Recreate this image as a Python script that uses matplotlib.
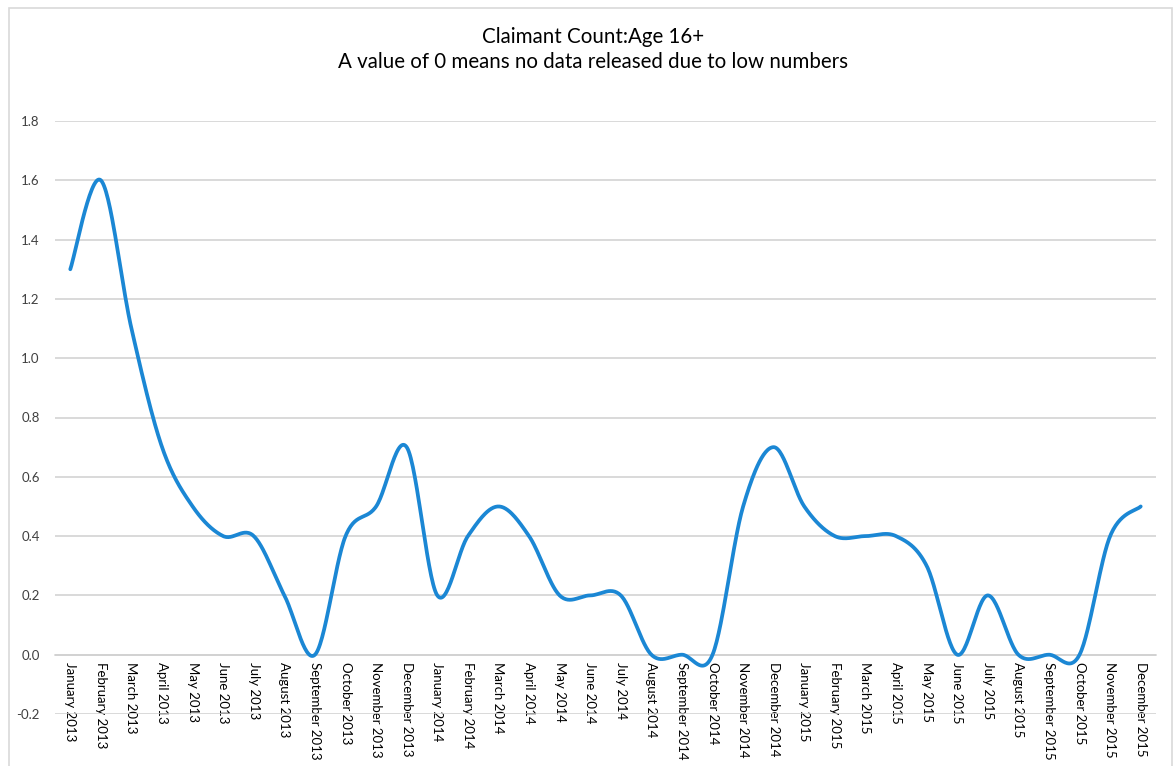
import numpy as np
import matplotlib
matplotlib.use("Agg")
import matplotlib.pyplot as plt
from matplotlib.patches import Rectangle

plt.rcParams['font.family'] = ['Lato', 'DejaVu Sans']

# Data
months = ["January", "February", "March", "April", "May", "June", "July",
          "August", "September", "October", "November", "December"]
years = [2013, 2014, 2015]
labels = [f"{m} {y}" for y in years for m in months]
values = [1.3, 1.6, 1.1, 0.7, 0.5, 0.4, 0.4, 0.2, 0.0, 0.4, 0.5, 0.7,
          0.2, 0.4, 0.5, 0.4, 0.2, 0.2, 0.2, 0.0, 0.0, 0.0, 0.5, 0.7,
          0.5, 0.4, 0.4, 0.4, 0.3, 0.0, 0.2, 0.0, 0.0, 0.0, 0.4, 0.5]


def smooth(x, y, n=30):
    # Catmull-Rom spline, like Excel's "smoothed line"
    x = np.asarray(x, float)
    y = np.asarray(y, float)
    px = np.concatenate([[x[0]], x, [x[-1]]])
    py = np.concatenate([[y[0]], y, [y[-1]]])
    xs, ys = [], []
    t = np.linspace(0, 1, n, endpoint=False)
    for i in range(1, len(px) - 2):
        for p, out in ((px, xs), (py, ys)):
            p0, p1, p2, p3 = p[i - 1], p[i], p[i + 1], p[i + 2]
            out.extend(0.5 * ((2 * p1) + (-p0 + p2) * t
                              + (2 * p0 - 5 * p1 + 4 * p2 - p3) * t ** 2
                              + (-p0 + 3 * p1 - 3 * p2 + p3) * t ** 3))
    xs.append(x[-1])
    ys.append(y[-1])
    return np.array(xs), np.array(ys)


fig = plt.figure(figsize=(11.75, 7.66), dpi=100)
ax = fig.add_axes([55 / 1175, (766 - 714) / 766, (1156 - 55) / 1175, (714 - 121) / 766])

# chart border
fig.patches.append(Rectangle((9 / 1175, -0.01), (1172 - 9) / 1175, (758) / 766 + 0.01,
                             transform=fig.transFigure, fill=False,
                             edgecolor='#d9d9d9', linewidth=1.2))

xi = np.arange(len(values))
sx, sy = smooth(xi, values)
ax.plot(sx, sy, color='#1b87d4', linewidth=2.7, solid_capstyle='round', zorder=3)

ax.set_xlim(-0.5, len(values) - 0.5)
ax.set_ylim(-0.2, 1.8)
ax.set_yticks(np.arange(-0.2, 1.81, 0.2))
ax.set_yticklabels([f"{v:.1f}" for v in np.arange(-0.2, 1.81, 0.2)], fontsize=9.5, color='#404040')
ax.yaxis.grid(True, color='#d0d0d0', linewidth=1.1)
ax.set_axisbelow(True)
ax.tick_params(axis='y', length=0, pad=11)

for s in ['top', 'right', 'left']:
    ax.spines[s].set_visible(False)
ax.spines['bottom'].set_position(('data', 0))
ax.spines['bottom'].set_color('#d0d0d0')
ax.spines['bottom'].set_linewidth(1.1)

ax.set_xticks(xi)
ax.set_xticklabels(labels, rotation=-90, fontsize=9.5, color='#000000', va='top', ha='center')
ax.tick_params(axis='x', length=0, pad=5)

fig.text(593 / 1175, 1 - 37 / 766, "Claimant Count:Age 16+", ha='center', va='center', fontsize=14.8)
fig.text(593 / 1175, 1 - 62 / 766, "A value of 0 means no data released due to low numbers",
         ha='center', va='center', fontsize=14.8)

fig.savefig("out.png", dpi=100)
